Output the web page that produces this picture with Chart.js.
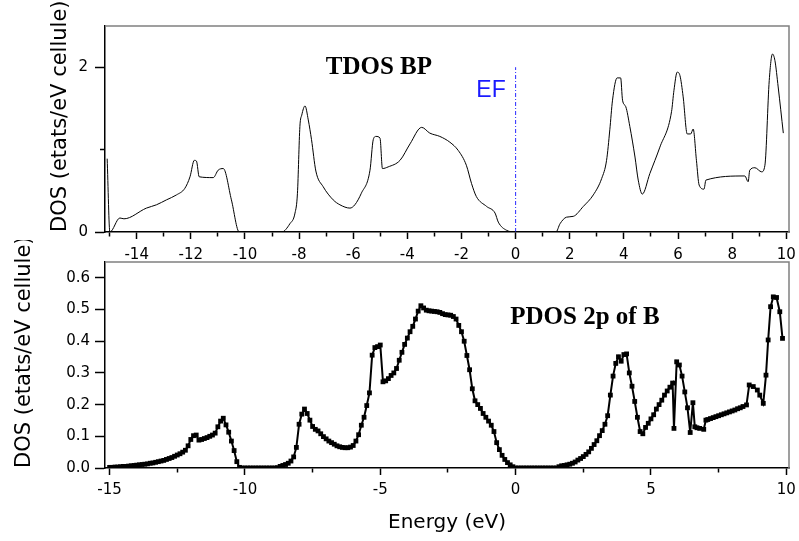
<!DOCTYPE html>
<html>
<head>
<meta charset="utf-8">
<script src="https://cdn.jsdelivr.net/npm/chart.js@4.4.1/dist/chart.umd.min.js"></script>
<style>
  html, body { margin: 0; padding: 0; background: #fff; }
  #wrap { position: relative; width: 799px; height: 541px; overflow: hidden; }
  canvas { position: absolute; left: 0; }
  #topChart { top: 0; }
  #botChart { top: 240px; }
</style>
</head>
<body>
<div id="wrap">
  <canvas id="topChart" width="799" height="272"></canvas>
  <canvas id="botChart" width="799" height="301"></canvas>
</div>
<script>
// ---- data ----
// total DOS (top panel), energy in eV
const tdosE = [-15.09, -14.99, -14.62, -14.47, -13.64, -13.27, -12.9, -12.53, -12.22, -12.03,
  -11.87, -11.79, -11.69, -11.17, -10.99, -10.8, -10.5, -10.21, -8.64, -8.34,
  -8.15, -8.06, -7.97, -7.9, -7.78, -7.66, -7.54, -7.38, -7.11, -6.74,
  -6.49, -6.12, -5.94, -5.7, -5.38, -5.26, -5.16, -5.01, -4.92, -4.71,
  -4.27, -3.9, -3.47, -3.17, -2.8, -2.43, -2.12, -1.82, -1.63, -1.45,
  -1.07, -0.76, -0.64, -0.33, 0, 1.49, 1.64, 1.88, 2.13, 2.5,
  2.87, 3.18, 3.36, 3.48, 3.58, 3.75, 3.88, 3.95, 4.07, 4.22,
  4.41, 4.53, 4.68, 4.96, 5.33, 5.76, 5.85, 5.97, 6.07, 6.19,
  6.34, 6.47, 6.56, 6.68, 6.78, 6.96, 7.03, 8.47, 8.59, 8.65,
  8.84, 9.09, 9.21, 9.37, 9.49, 9.58, 9.7, 9.89];
const tdosDos = [0.89, 0, 0.17, 0.16, 0.29, 0.33, 0.39, 0.45, 0.53, 0.67,
  0.87, 0.86, 0.67, 0.66, 0.75, 0.77, 0.39, 0, 0, 0.1,
  0.23, 0.47, 1.28, 1.42, 1.53, 1.36, 1.12, 0.74, 0.55, 0.39,
  0.33, 0.29, 0.33, 0.47, 0.75, 1.12, 1.16, 1.14, 0.77, 0.79,
  0.87, 1.07, 1.27, 1.2, 1.16, 1.09, 0.99, 0.81, 0.59, 0.43,
  0.31, 0.23, 0.12, 0.02, 0, 0, 0.1, 0.18, 0.19, 0.31,
  0.45, 0.65, 0.87, 1.24, 1.6, 1.87, 1.87, 1.6, 1.52, 1.28,
  0.91, 0.63, 0.46, 0.71, 1.03, 1.46, 1.72, 1.94, 1.9, 1.64,
  1.19, 1.19, 1.25, 0.87, 0.57, 0.52, 0.63, 0.68, 0.61, 0.75,
  0.78, 0.73, 0.81, 1.84, 2.16, 2.08, 1.76, 1.2];

// Fermi level marker
const efE = [0, 0];
const efDos = [0, 2];

// partial DOS, 2p of B (bottom panel)
const pdosE = [
  -15.0, -14.9, -14.8, -14.7, -14.6, -14.5, -14.4, -14.3, -14.2, -14.1,
  -14.0, -13.9, -13.8, -13.7, -13.6, -13.5, -13.4, -13.3, -13.2, -13.1,
  -13.0, -12.9, -12.8, -12.7, -12.6, -12.5, -12.4, -12.3, -12.2, -12.1,
  -12.0, -11.9, -11.8, -11.7, -11.6, -11.5, -11.4, -11.3, -11.2, -11.1,
  -11.0, -10.9, -10.8, -10.7, -10.6, -10.5, -10.4, -10.3, -10.2, -10.1,
  -10.0, -9.9, -9.8, -9.7, -9.6, -9.5, -9.4, -9.3, -9.2, -9.1,
  -9.0, -8.9, -8.8, -8.7, -8.6, -8.5, -8.4, -8.3, -8.2, -8.1,
  -8.0, -7.9, -7.8, -7.7, -7.6, -7.5, -7.4, -7.3, -7.2, -7.1,
  -7.0, -6.9, -6.8, -6.7, -6.6, -6.5, -6.4, -6.3, -6.2, -6.1,
  -6.0, -5.9, -5.8, -5.7, -5.6, -5.5, -5.4, -5.3, -5.2, -5.1,
  -5.0, -4.9, -4.8, -4.7, -4.6, -4.5, -4.4, -4.3, -4.2, -4.1,
  -4.0, -3.9, -3.8, -3.7, -3.6, -3.5, -3.4, -3.3, -3.2, -3.1,
  -3.0, -2.9, -2.8, -2.7, -2.6, -2.5, -2.4, -2.3, -2.2, -2.1,
  -2.0, -1.9, -1.8, -1.7, -1.6, -1.5, -1.4, -1.3, -1.2, -1.1,
  -1.0, -0.9, -0.8, -0.7, -0.6, -0.5, -0.4, -0.3, -0.2, -0.1,
  0.0, 0.1, 0.2, 0.3, 0.4, 0.5, 0.6, 0.7, 0.8, 0.9,
  1.0, 1.1, 1.2, 1.3, 1.4, 1.5, 1.6, 1.7, 1.8, 1.9,
  2.0, 2.1, 2.2, 2.3, 2.4, 2.5, 2.6, 2.7, 2.8, 2.9,
  3.0, 3.1, 3.2, 3.3, 3.4, 3.5, 3.6, 3.7, 3.8, 3.9,
  4.0, 4.1, 4.2, 4.3, 4.4, 4.5, 4.6, 4.7, 4.8, 4.9,
  5.0, 5.1, 5.2, 5.3, 5.4, 5.5, 5.6, 5.7, 5.8, 5.85,
  5.95, 6.05, 6.15, 6.25, 6.35, 6.45, 6.55, 6.62, 6.7, 6.8,
  6.95, 7.03, 7.1, 7.2, 7.3, 7.4, 7.5, 7.6, 7.7, 7.8,
  7.9, 8.0, 8.1, 8.2, 8.3, 8.4, 8.53, 8.63, 8.78, 8.93,
  9.02, 9.15, 9.25, 9.33, 9.42, 9.52, 9.64, 9.76, 9.86];
const pdosDos = [
  0.002, 0.002, 0.003, 0.003, 0.004, 0.005, 0.005, 0.006, 0.007, 0.008,
  0.009, 0.010, 0.011, 0.012, 0.013, 0.015, 0.016, 0.018, 0.020, 0.022,
  0.024, 0.027, 0.030, 0.033, 0.037, 0.041, 0.045, 0.050, 0.056, 0.070,
  0.090, 0.102, 0.104, 0.088, 0.090, 0.093, 0.096, 0.100, 0.104, 0.110,
  0.130, 0.148, 0.157, 0.136, 0.113, 0.085, 0.055, 0.020, 0.002, 0,
  0, 0, 0, 0, 0, 0, 0, 0, 0, 0,
  0, 0, 0.001, 0.005, 0.008, 0.011, 0.015, 0.022, 0.035, 0.065,
  0.138, 0.170, 0.186, 0.172, 0.151, 0.131, 0.122, 0.117, 0.108, 0.099,
  0.092, 0.085, 0.080, 0.075, 0.070, 0.067, 0.065, 0.064, 0.064, 0.066,
  0.071, 0.085, 0.105, 0.135, 0.160, 0.197, 0.237, 0.356, 0.380, 0.383,
  0.388, 0.272, 0.275, 0.282, 0.292, 0.300, 0.314, 0.340, 0.365, 0.390,
  0.410, 0.430, 0.447, 0.470, 0.495, 0.512, 0.505, 0.498, 0.496, 0.495,
  0.494, 0.493, 0.491, 0.487, 0.484, 0.483, 0.482, 0.478, 0.470, 0.450,
  0.430, 0.400, 0.355, 0.310, 0.250, 0.212, 0.200, 0.188, 0.172, 0.160,
  0.148, 0.135, 0.115, 0.080, 0.058, 0.040, 0.027, 0.017, 0.010, 0.004,
  0, 0, 0, 0, 0, 0, 0, 0, 0, 0,
  0, 0, 0, 0, 0, 0, 0.004, 0.007, 0.008, 0.010,
  0.012, 0.015, 0.019, 0.025, 0.030, 0.036, 0.043, 0.051, 0.062, 0.074,
  0.086, 0.102, 0.118, 0.138, 0.165, 0.230, 0.290, 0.330, 0.351, 0.337,
  0.358, 0.360, 0.300, 0.258, 0.210, 0.160, 0.115, 0.108, 0.128, 0.141,
  0.155, 0.168, 0.186, 0.200, 0.214, 0.230, 0.243, 0.255, 0.268, 0.125,
  0.335, 0.325, 0.290, 0.240, 0.190, 0.112, 0.206, 0.130, 0.127, 0.125,
  0.122, 0.151, 0.153, 0.156, 0.159, 0.162, 0.165, 0.168, 0.171, 0.174,
  0.177, 0.180, 0.183, 0.187, 0.190, 0.194, 0.199, 0.262, 0.257, 0.246,
  0.230, 0.204, 0.293, 0.404, 0.509, 0.540, 0.538, 0.493, 0.409];

// ticks
const topXTicks = [-15, -14, -13, -12, -11, -10, -9, -8, -7, -6, -5, -4, -3, -2, -1, 0, 1, 2, 3, 4, 5, 6, 7, 8, 9, 10];
const topXLabels = [-14, -12, -10, -8, -6, -4, -2, 0, 2, 4, 6, 8, 10];
const topYTicks = [0, 1, 2];
const topYLabels = [0, 2];
const botXTicks = [-15, -12.5, -10, -7.5, -5, -2.5, 0, 2.5, 5, 7.5, 10];
const botXLabels = [-15, -10, -5, 0, 5, 10];
const botYTicks = [0, 0.05, 0.1, 0.15, 0.2, 0.25, 0.3, 0.35, 0.4, 0.45, 0.5, 0.55, 0.6];
const botYLabels = [0, 0.1, 0.2, 0.3, 0.4, 0.5, 0.6];

Chart.defaults.font.family = "'DejaVu Sans', sans-serif";
Chart.defaults.color = '#000';

function pts(xs, ys) {
  return xs.map((x, i) => ({x: x, y: ys[i]}));
}

// minor ticks are drawn shorter by dashing the tick line
function xDash(labels) {
  return c => (c.tick && !labels.includes(c.tick.value)) ? [4, 100] : [];
}
function yDash(labels) {
  return c => (c.tick && !labels.includes(c.tick.value)) ? [0, 5, 5, 100] : [];
}

const framePlugin = {
  id: 'frame',
  afterDraw(chart) {
    const ctx = chart.ctx, a = chart.chartArea;
    ctx.save();
    ctx.strokeStyle = '#808080';
    ctx.lineWidth = 1.5;
    ctx.beginPath();
    ctx.moveTo(a.left, a.top);
    ctx.lineTo(a.right, a.top);
    ctx.lineTo(a.right, a.bottom);
    ctx.stroke();
    ctx.restore();
  }
};

const notesPlugin = {
  id: 'notes',
  afterDatasetsDraw(chart, args, opts) {
    const ctx = chart.ctx, x = chart.scales.x, y = chart.scales.y;
    (opts.items || []).forEach(n => {
      ctx.save();
      ctx.font = n.font;
      ctx.fillStyle = n.color;
      ctx.textAlign = 'center';
      ctx.textBaseline = 'middle';
      ctx.fillText(n.text, x.getPixelForValue(n.x), y.getPixelForValue(n.y));
      ctx.restore();
    });
  }
};

function axisX(min, max, ticks, labels, height, pad, fmt, title) {
  return {
    type: 'linear', min: min, max: max,
    afterBuildTicks: s => { s.ticks = ticks.map(v => ({value: v})); },
    afterFit: s => { s.height = height; s.paddingLeft = 0; s.paddingRight = 0; },
    ticks: {
      autoSkip: false, maxRotation: 0, padding: pad, font: {size: 15},
      callback: v => labels.includes(v) ? fmt(v) : ''
    },
    grid: {drawOnChartArea: false, tickLength: 7, tickColor: '#000', tickWidth: 1.5, tickBorderDash: xDash(labels)},
    border: {color: '#000', width: 1.5},
    title: title
  };
}

function axisY(min, max, ticks, labels, pad, fmt, titlePad) {
  return {
    type: 'linear', min: min, max: max,
    afterBuildTicks: s => { s.ticks = ticks.map(v => ({value: v})); },
    afterFit: s => { s.width = 105; s.paddingTop = 0; s.paddingBottom = 0; },
    ticks: {
      padding: pad, font: {size: 15},
      callback: v => labels.includes(v) ? fmt(v) : ''
    },
    grid: {drawOnChartArea: false, tickLength: 10, tickColor: '#000', tickWidth: 1.5, tickBorderDash: yDash(labels)},
    border: {color: '#000', width: 1.5},
    title: {
      display: true, text: 'DOS (etats/eV cellule)', align: 'start', color: '#000',
      font: {size: 21}, padding: {top: titlePad, bottom: 0}
    }
  };
}

new Chart(document.getElementById('topChart'), {
  type: 'line',
  data: {
    datasets: [
      {
        data: pts(tdosE, tdosDos),
        borderColor: '#000', borderWidth: 1, pointRadius: 0,
        cubicInterpolationMode: 'monotone'
      },
      {
        data: pts(efE, efDos),
        borderColor: '#2b2bff', borderWidth: 1, pointRadius: 0,
        borderDash: [4, 2, 1, 2]
      }
    ]
  },
  options: {
    responsive: false,
    animation: false,
    layout: {padding: {left: 0, right: 10, top: 26, bottom: 0}},
    scales: {
      x: axisX(-15.17, 10.1, topXTicks, topXLabels, 40, 7, v => String(v), {display: false}),
      y: axisY(0, 2.5, topYTicks, topYLabels, 7, v => String(v), 48)
    },
    plugins: {
      legend: {display: false},
      tooltip: {enabled: false},
      notes: {items: [
        {text: 'TDOS BP', x: -5.05, y: 2.0, font: "bold 25px 'Liberation Serif'", color: '#000'},
        {text: 'EF', x: -0.91, y: 1.72, font: "23px 'Liberation Sans'", color: '#1a1aff'}
      ]}
    }
  },
  plugins: [framePlugin, notesPlugin]
});

new Chart(document.getElementById('botChart'), {
  type: 'line',
  data: {
    datasets: [
      {
        data: pts(pdosE, pdosDos),
        borderColor: '#000', borderWidth: 2,
        pointStyle: 'rect', pointRadius: 3.4, pointBorderWidth: 0,
        pointBackgroundColor: '#000', tension: 0
      }
    ]
  },
  options: {
    responsive: false,
    animation: false,
    layout: {padding: {left: 0, right: 10, top: 22, bottom: 0}},
    scales: {
      x: axisX(-15.17, 10.1, botXTicks, botXLabels, 73, 6, v => String(v),
        {display: true, text: 'Energy (eV)', color: '#000', font: {size: 20}, padding: {top: 0, bottom: 6}}),
      y: axisY(0, 0.65, botYTicks, botYLabels, 5, v => v.toFixed(1), 12)
    },
    plugins: {
      legend: {display: false},
      tooltip: {enabled: false},
      notes: {items: [
        {text: 'PDOS 2p of B', x: 2.56, y: 0.476, font: "bold 25px 'Liberation Serif'", color: '#000'}
      ]}
    }
  },
  plugins: [framePlugin, notesPlugin]
});
</script>
</body>
</html>
